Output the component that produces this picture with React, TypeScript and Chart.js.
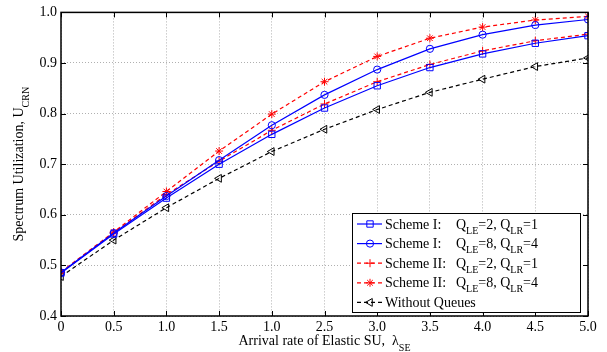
import React, { useEffect, useRef } from "react";
import { Chart, registerables } from "chart.js";

Chart.register(...registerables);

const lambdaSE = [0, 0.5, 1.0, 1.5, 2.0, 2.5, 3.0, 3.5, 4.0, 4.5, 5.0];
const xTickLabels = ["0", "0.5", "1.0", "1.5", "1.0", "2.5", "3.0", "3.5", "4.0", "4.5", "5.0"];
const yTickValues = [0.4, 0.5, 0.6, 0.7, 0.8, 0.9, 1.0];

const scheme1Q2 = [0.485, 0.562, 0.633, 0.700, 0.759, 0.811, 0.855, 0.891, 0.918, 0.939, 0.954];
const scheme1Q8 = [0.486, 0.564, 0.637, 0.708, 0.777, 0.837, 0.887, 0.928, 0.956, 0.975, 0.986];
const scheme2Q2 = [0.486, 0.564, 0.640, 0.706, 0.767, 0.819, 0.863, 0.897, 0.924, 0.944, 0.957];
const scheme2Q8 = [0.487, 0.566, 0.646, 0.726, 0.799, 0.863, 0.913, 0.949, 0.971, 0.985, 0.992];
const withoutQueues = [0.478, 0.550, 0.614, 0.672, 0.725, 0.769, 0.808, 0.842, 0.868, 0.893, 0.910];

const legendSchemes = ["Scheme I:", "Scheme I:", "Scheme II:", "Scheme II:", "Without Queues"];
const legendQLE = ["2", "8", "2", "8", ""];
const legendQLR = ["1", "4", "1", "4", ""];

const xTitle = "Arrival rate of Elastic SU,  \u03bb";
const xTitleSub = "SE";
const yTitle = "Spectrum Utilization, U";
const yTitleSub = "CRN";

const FONT = "'Liberation Serif', 'Times New Roman', serif";

type Seg = [string, boolean];

const seriesStyles = [
  { color: "#0000ff", dash: [] as number[], marker: "rect", r: 4.5 },
  { color: "#0000ff", dash: [] as number[], marker: "circle", r: 3.6 },
  { color: "#ff0000", dash: [4, 3], marker: "cross", r: 4 },
  { color: "#ff0000", dash: [4, 3], marker: "star", r: 4 },
  { color: "#000000", dash: [4, 3], marker: "triangle", r: 4.5 },
];

function drawMarker(ctx: CanvasRenderingContext2D, style: string, x: number, y: number, r: number, color: string) {
  ctx.save();
  ctx.setLineDash([]);
  ctx.strokeStyle = color;
  ctx.lineWidth = 1;
  ctx.beginPath();
  if (style === "rect") {
    const s = r * Math.SQRT1_2;
    ctx.rect(x - s, y - s, 2 * s, 2 * s);
  } else if (style === "circle") {
    ctx.arc(x, y, r, 0, Math.PI * 2);
  } else if (style === "cross" || style === "star") {
    ctx.moveTo(x - r, y);
    ctx.lineTo(x + r, y);
    ctx.moveTo(x, y - r);
    ctx.lineTo(x, y + r);
    if (style === "star") {
      const o = r * Math.SQRT1_2;
      ctx.moveTo(x - o, y - o);
      ctx.lineTo(x + o, y + o);
      ctx.moveTo(x - o, y + o);
      ctx.lineTo(x + o, y - o);
    }
  } else if (style === "triangle") {
    ctx.moveTo(x - r, y);
    ctx.lineTo(x + r * 0.5, y - r * 0.866);
    ctx.lineTo(x + r * 0.5, y + r * 0.866);
    ctx.closePath();
  }
  ctx.stroke();
  ctx.restore();
}

function segWidth(ctx: CanvasRenderingContext2D, segs: Seg[], size: number, subSize: number) {
  let w = 0;
  for (const [t, sub] of segs) {
    ctx.font = `${sub ? subSize : size}px ${FONT}`;
    w += ctx.measureText(t).width;
  }
  return w;
}

function drawSegs(ctx: CanvasRenderingContext2D, segs: Seg[], x: number, y: number, size: number, subSize: number, subOff: number) {
  let cx = x;
  ctx.textBaseline = "alphabetic";
  ctx.textAlign = "left";
  for (const [t, sub] of segs) {
    ctx.font = `${sub ? subSize : size}px ${FONT}`;
    ctx.fillText(t, cx, sub ? y + subOff : y);
    cx += ctx.measureText(t).width;
  }
}

const framePlugin = {
  id: "frame",
  afterDraw(chart: any) {
    const { ctx, chartArea: a, scales } = chart;
    const xs = scales.x;
    const ys = scales.y;
    ctx.save();
    ctx.setLineDash([]);
    ctx.strokeStyle = "#000";
    ctx.lineWidth = 1;
    // ticks inward
    ctx.beginPath();
    for (const t of xs.ticks) {
      const px = Math.round(xs.getPixelForValue(t.value)) + 0.5;
      ctx.moveTo(px, a.bottom);
      ctx.lineTo(px, a.bottom - 5);
      ctx.moveTo(px, a.top);
      ctx.lineTo(px, a.top + 5);
    }
    for (const t of ys.ticks) {
      const py = Math.round(ys.getPixelForValue(t.value)) + 0.5;
      ctx.moveTo(a.left, py);
      ctx.lineTo(a.left + 5, py);
      ctx.moveTo(a.right, py);
      ctx.lineTo(a.right - 5, py);
    }
    ctx.stroke();
    ctx.lineWidth = 1.5;
    ctx.strokeRect(a.left, a.top, a.right - a.left, a.bottom - a.top);

    // axis titles
    ctx.fillStyle = "#000";
    const xSegs: Seg[] = [[xTitle, false], [xTitleSub, true]];
    const xw = segWidth(ctx, xSegs, 14, 10);
    drawSegs(ctx, xSegs, (a.left + a.right) / 2 - xw / 2, 345, 14, 10, 6);

    const ySegs: Seg[] = [[yTitle, false], [yTitleSub, true]];
    const yw = segWidth(ctx, ySegs, 14, 10);
    ctx.save();
    ctx.translate(23, (a.top + a.bottom) / 2);
    ctx.rotate(-Math.PI / 2);
    drawSegs(ctx, ySegs, -yw / 2, 0, 14, 10, 6);
    ctx.restore();

    // legend
    const lx = 352, ly = 213, lw = 228, lh = 99;
    ctx.fillStyle = "#fff";
    ctx.fillRect(lx, ly, lw, lh);
    ctx.lineWidth = 1;
    ctx.strokeStyle = "#000";
    ctx.strokeRect(lx + 0.5, ly + 0.5, lw, lh);
    for (let i = 0; i < legendSchemes.length; i++) {
      const st = seriesStyles[i];
      const cy = 224 + i * 19.6;
      ctx.save();
      ctx.strokeStyle = st.color;
      ctx.lineWidth = 1.2;
      ctx.setLineDash(st.dash);
      ctx.beginPath();
      ctx.moveTo(357, cy);
      ctx.lineTo(382, cy);
      ctx.stroke();
      ctx.restore();
      drawMarker(ctx, st.marker, 370, cy, st.r, st.color);
      ctx.fillStyle = "#000";
      const base = cy + 4.5;
      drawSegs(ctx, [[legendSchemes[i], false]], 385, base, 14, 10, 5);
      if (legendQLE[i]) {
        drawSegs(
          ctx,
          [["Q", false], ["LE", true], ["=" + legendQLE[i] + ", Q", false], ["LR", true], ["=" + legendQLR[i], false]],
          456,
          base,
          14,
          10,
          5
        );
      }
    }
    ctx.restore();
  },
};

export default function App() {
  const ref = useRef<HTMLCanvasElement | null>(null);
  useEffect(() => {
    document.body.style.margin = "0";
    const canvas = ref.current;
    if (!canvas) return;
    const names = ["s1q2", "s1q8", "s2q2", "s2q8", "noq"];
    const series = [scheme1Q2, scheme1Q8, scheme2Q2, scheme2Q8, withoutQueues];
    const datasets = series.map((vals, i) => {
      const st = seriesStyles[i];
      return {
        label: names[i],
        data: vals.map((v, j) => ({ x: lambdaSE[j], y: v })),
        borderColor: st.color,
        borderWidth: 1.2,
        borderDash: st.dash,
        backgroundColor: st.color,
        pointStyle: st.marker === "triangle" ? "triangle" : st.marker === "cross" ? "cross" : st.marker,
        rotation: st.marker === "triangle" ? -90 : 0,
        pointRadius: st.r,
        pointBorderWidth: 1,
        pointBorderColor: st.color,
        pointBackgroundColor: "rgba(0,0,0,0)",
        tension: 0,
        fill: false,
      };
    });
    const chart = new Chart(canvas, {
      type: "line",
      data: { datasets: datasets as any },
      plugins: [framePlugin as any],
      options: {
        animation: false,
        responsive: false,
        devicePixelRatio: 1,
        layout: { padding: { top: 9, right: 19, bottom: 0, left: 0 } },
        plugins: { legend: { display: false }, tooltip: { enabled: false } },
        scales: {
          x: {
            type: "linear",
            min: 0,
            max: 5,
            afterFit: (s: any) => {
              s.height = 36;
            },
            afterBuildTicks: (s: any) => {
              s.ticks = lambdaSE.map((v) => ({ value: v }));
            },
            ticks: {
              padding: 3,
              color: "#000",
              font: { family: FONT, size: 14 },
              maxRotation: 0,
              autoSkip: false,
              callback: (_v: any, i: number) => xTickLabels[i],
            },
            grid: { color: "#b0b0b0", lineWidth: 1, drawTicks: false },
            border: { display: false, dash: [1, 2] },
          },
          y: {
            type: "linear",
            min: 0.4,
            max: 1.0,
            afterFit: (s: any) => {
              s.width = 61;
            },
            afterBuildTicks: (s: any) => {
              s.ticks = yTickValues.map((v) => ({ value: v }));
            },
            ticks: {
              padding: 4,
              color: "#000",
              font: { family: FONT, size: 14 },
              callback: (v: any) => Number(v).toFixed(1),
            },
            grid: { color: "#b0b0b0", lineWidth: 1, drawTicks: false },
            border: { display: false, dash: [1, 2] },
          },
        },
      },
    });
    return () => chart.destroy();
  }, []);
  return (
    <div style={{ width: 607, height: 352 }}>
      <canvas ref={ref} width={607} height={352} style={{ display: "block" }} />
    </div>
  );
}
